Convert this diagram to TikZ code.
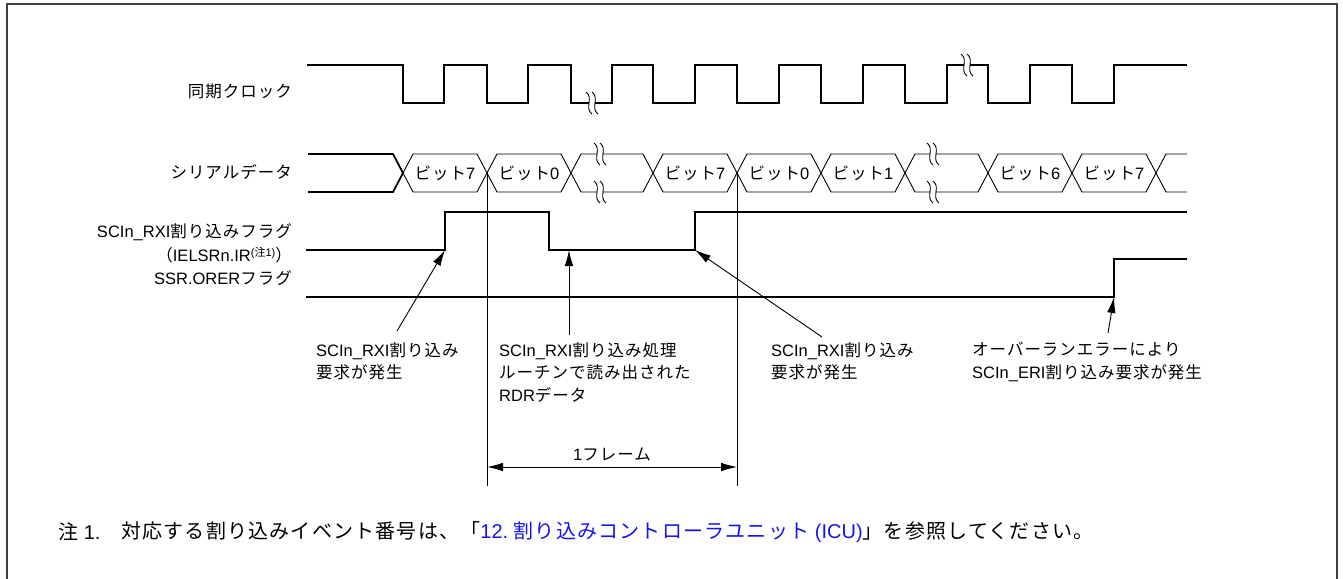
\documentclass[tikz,border=0pt]{standalone}
\usepackage{fontspec}
\setmainfont{Noto Sans CJK JP}[LetterSpace=6]
\newfontfamily\lat{Liberation Sans}
\usepackage{tikz}
\definecolor{linkblue}{RGB}{20,20,235}
\definecolor{rahmen}{RGB}{64,64,64}
\usetikzlibrary{arrows.meta}

\begin{document}
\begin{tikzpicture}[x=1pt, y=-1pt,
		>={Latex[length=16pt,width=8.5pt]},   %Pfeilspitzen
		sig/.style={line width=1.8pt},
		dat/.style={line width=0.9pt},
		pfeil/.style={->, line width=0.9pt},
		txt/.style={inner sep=0pt, font=\fontsize{16.5}{22.5}\selectfont},
		lbl/.style={txt, anchor=east},
		info/.style={txt, anchor=north west, align=left},
		brk/.pic={
			\fill[white] (-3,-2) rectangle (3,2);
			\draw[line width=0.9pt] (-6,-11) .. controls (2,-5) and (-8,5) .. (0,11);
			\draw[line width=0.9pt] (0,-11) .. controls (8,-5) and (-2,5) .. (6,11);
		}]
		\useasboundingbox (0,0) rectangle (1343,578);
		%Rahmen
		\draw[rahmen, line width=1.5pt] (7,600) |- (1337,4) -- (1337,600);
		%Beschriftung links
		\node[lbl] (clk) at (292,91) {同期クロック};
		\node[lbl] (sd) at (292,172) {シリアルデータ};
		\node[lbl] (rxi) at (292,232) {{\lat SCIn\_RXI}割り込みフラグ};
		\node[lbl] (ielsr) at (292,255) {（{\lat IELSRn.IR}\raisebox{0.6ex}{\fontsize{11}{11}\selectfont{\lat(}注{\lat 1)}}）};
		\node[lbl] (orer) at (292,278) {{\lat SSR.ORER}フラグ};
		%Takt
		\draw[sig] (307,65) \foreach \f/\r in {403/444,487/528,571/612,653/695,737/779,821/863,905/947,988/1030,1072/1114} { -| (\f,103) -| (\r,65) } -- (1187,65);
		\pic at (592,103) {brk};
		\pic at (967,65) {brk};
		%Serielle Daten
		\draw[sig] (308,154) -- (393,154) -- (403,173) -- (393,192) -- (308,192);
		\foreach \a/\b in {403/487,487/571,571/653,653/737,737/821,821/905,905/988,988/1072,1072/1156}
			\draw[dat] (\a,173) -- (\a+10,154) -- (\b-10,154) -- (\b,173) -- (\b-10,192) -- (\a+10,192) -- cycle;
		\draw[dat] (1187,154) -- (1166,154) -- (1156,173) -- (1166,192) -- (1187,192);
		\foreach \x in {600,933} {
			\pic at (\x,154) {brk};
			\pic at (\x,192) {brk};
		}
		\foreach \x/\n [count=\i] in {445/7,529/0,695/7,779/0,863/1,1030/6,1114/7}
			\node[txt] (bit\i) at (\x,173) {ビット{\lat\n}};
		%Flags
		\draw[sig] (306,250) -| (445,212) -| (549,250) -| (695,212) -- (1187,212);
		\draw[sig] (306,297) -| (1114,259) -- (1187,259);
		%1 Rahmen
		\coordinate (f1o) at (487,173);
		\coordinate (f1u) at (487,486);
		\coordinate (f2o) at (737,173);
		\coordinate (f2u) at (737,486);
		\draw[dat] (f1o) -- (f1u);
		\draw[dat] (f2o) -- (f2u);
		\coordinate (m1) at (487,467);
		\coordinate (m2) at (737,467);
		\draw[<->, line width=0.9pt] (m1) -- (m2) node[txt, midway, above=5pt] (fr) {{\lat 1}フレーム};
		%Erklaerungen
		\node[info] (t1) at (316,342) {{\lat SCIn\_RXI}割り込み\\要求が発生};
		\node[info] (t2) at (499,342) {{\lat SCIn\_RXI}割り込み処理\\ルーチンで読み出された\\{\lat RDR}データ};
		\node[info] (t3) at (771,342) {{\lat SCIn\_RXI}割り込み\\要求が発生};
		\node[info] (t4) at (972,342) {オーバーランエラーにより\\{\lat SCIn\_ERI}割り込み要求が発生};
		\coordinate (s1) at (445,250);
		\coordinate (s2) at (569,250);
		\coordinate (s3) at (695,250);
		\coordinate (s4) at (1114,297);
		\coordinate (e1) at (397,331);
		\coordinate (e2) at (569,335);
		\coordinate (e3) at (822,337);
		\coordinate (e4) at (1108,333);
		\foreach \i in {1,...,4} \draw[pfeil] (e\i) -- (s\i);
		%Anmerkung
		\node[txt, anchor=west, font=\fontsize{20}{24}\selectfont] (n1) at (58,532) {注{\lat\ 1.}};
		\node[txt, anchor=west, font=\fontsize{20}{24}\selectfont] (n2) at (121,532) {対応する割り込みイベント番号は、「\textcolor{linkblue}{{\lat 12.\ }割り込みコントローラユニット{\lat\ (ICU)}}」を参照してください。};
\end{tikzpicture}
\end{document}
